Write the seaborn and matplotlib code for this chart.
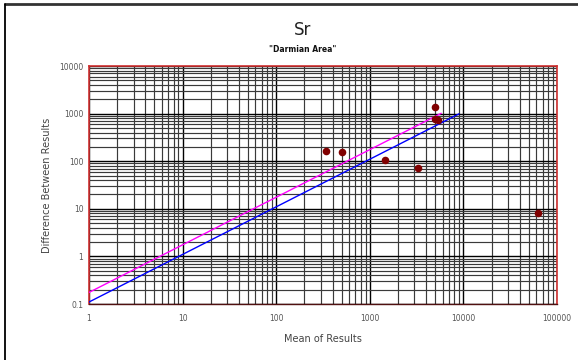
import numpy as np
import pandas as pd
import matplotlib
matplotlib.use('Agg')
import matplotlib.pyplot as plt
import seaborn as sns
from matplotlib.ticker import FixedLocator, FixedFormatter, LogLocator, NullFormatter

# valores
mean_results = [339, 499, 1466, 3250, 5030, 5030, 5360, 63000]
diff_results = [160, 153, 105, 72, 1380, 787, 736, 8.3]

# linhas de precisão (extremos)
blue_x = [1, 9000]
blue_y = [0.11, 990]
pink_x = [1, 5800]
pink_y = [0.175, 1015]

x_ticks = [1, 10, 100, 1000, 10000, 100000]
x_labels = ['1', '10', '100', '1000', '10000', '100000']
y_ticks = [0.1, 1, 10, 100, 1000, 10000]
y_labels = ['0.1', '1', '10', '100', '1000', '10000']

sns.set_style('white')
plt.rcParams['font.family'] = ['DejaVu Sans']

fig = plt.figure(figsize=(5.78, 3.6), dpi=100)
ax = fig.add_axes([89 / 578, 1 - 304 / 360, 468 / 578, 238 / 360])

pts = pd.DataFrame({'mean': mean_results, 'diff': diff_results})
lines = pd.DataFrame({
    'x': blue_x + pink_x,
    'y': blue_y + pink_y,
    'serie': ['blue'] * 2 + ['pink'] * 2,
})

sns.lineplot(data=lines, x='x', y='y', hue='serie', palette={'blue': '#0000ff', 'pink': '#ff00ff'},
             linewidth=1.0, legend=False, ax=ax, zorder=3)
sns.scatterplot(data=pts, x='mean', y='diff', color='#800000', s=30, edgecolor='#800000',
                linewidth=0, ax=ax, zorder=4)

ax.set_xscale('log')
ax.set_yscale('log')
ax.set_xlim(1, 100000)
ax.set_ylim(0.1, 10000)

# grelha principal e secundária
ax.xaxis.set_minor_locator(LogLocator(base=10, subs=np.arange(2, 10)))
ax.yaxis.set_minor_locator(LogLocator(base=10, subs=np.arange(2, 10)))
ax.xaxis.set_minor_formatter(NullFormatter())
ax.yaxis.set_minor_formatter(NullFormatter())
ax.grid(True, which='major', color='black', linewidth=1.0)
ax.grid(True, which='minor', color='#3a3a3a', linewidth=0.85)
ax.set_axisbelow(True)

ax.xaxis.set_major_locator(FixedLocator(x_ticks))
ax.xaxis.set_major_formatter(FixedFormatter(x_labels))
ax.yaxis.set_major_locator(FixedLocator(y_ticks))
ax.yaxis.set_major_formatter(FixedFormatter(y_labels))
ax.tick_params(axis='both', which='major', labelsize=5.5, labelcolor='#555555', length=0, pad=7)
ax.tick_params(axis='y', which='major', length=3, color='#555555', pad=1, direction='out')
ax.tick_params(which='minor', length=0)

for side in ['top', 'right', 'left']:
    ax.spines[side].set_color('#d03030')
    ax.spines[side].set_linewidth(1.2)
ax.spines['bottom'].set_color('#501010')
ax.spines['bottom'].set_linewidth(1.0)

ax.set_xlabel('Mean of Results', fontsize=7, color='#444444', labelpad=8)
ax.set_ylabel('Difference Between Results', fontsize=7, color='#444444', labelpad=5)

fig.text(303 / 578, 1 - 30 / 360, 'Sr', fontsize=12, ha='center', va='center', color='#222222')
fig.text(303 / 578, 1 - 49 / 360, '"Darmian Area"', fontsize=5.5, fontweight='bold',
         ha='center', va='center', color='#111111')

# moldura exterior (gráfico recortado do Excel)
fig.add_artist(plt.Line2D([5 / 578, 1], [1 - 4 / 360, 1 - 4 / 360], color='#333333', linewidth=2.0,
                          transform=fig.transFigure))
fig.add_artist(plt.Line2D([5 / 578, 5 / 578], [0, 1 - 4 / 360], color='black', linewidth=1.3,
                          transform=fig.transFigure))

fig.savefig('out.png', dpi=100)
